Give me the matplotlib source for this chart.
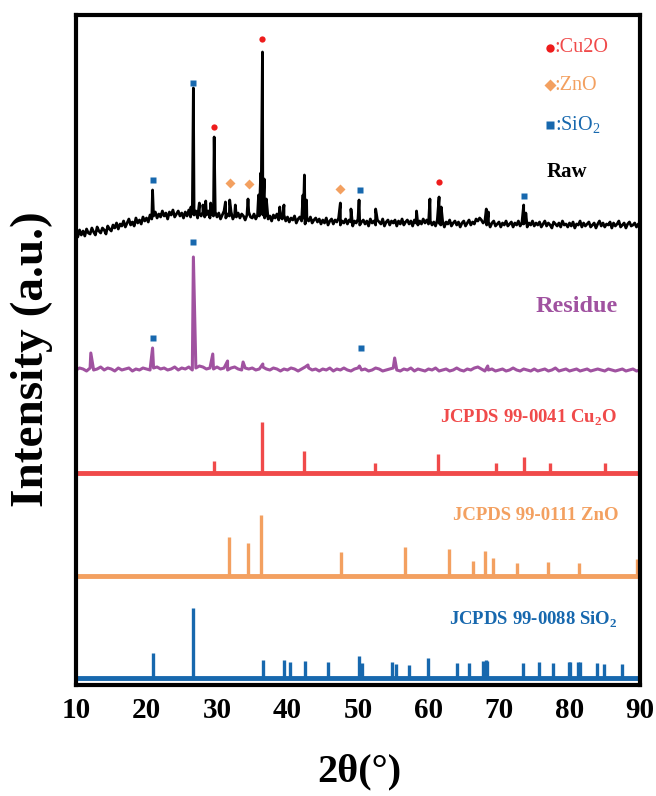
import numpy as np
import matplotlib
matplotlib.use('Agg')
import matplotlib.pyplot as plt

plt.rcParams['font.family'] = ['Liberation Serif', 'DejaVu Serif']
plt.rcParams['mathtext.fontset'] = 'custom'
plt.rcParams['mathtext.rm'] = 'Liberation Serif'
plt.rcParams['mathtext.bf'] = 'Liberation Serif:bold'

#%% Data

# Raw pattern: background read every 0.25 deg from 10 to 90, plus peak points
raw_bg_x = np.arange(10, 90.01, 0.25)
raw_bg_y = [12, 8, 15, 10, 14, 9, 16, 12, 11, 17, 13, 10, 18, 14, 12, 17, 15, 11, 19, 16,
            14, 20, 17, 22, 16, 21, 19, 24, 18, 22, 26, 20, 23, 19, 27, 22, 25, 21, 28, 24,
            27, 23, 30, 26, 29, 33, 27, 31, 28, 34, 29, 32, 26, 33, 30, 35, 28, 31, 34, 29,
            32, 27, 33, 29, 35, 28, 31, 30, 34, 27, 32, 29, 33, 28, 30, 34, 27, 31, 29, 33,
            28, 32, 26, 30, 34, 27, 31, 29, 33, 26, 30, 28, 32, 27, 31, 29, 25, 30, 33, 28,
            27, 31, 26, 30, 29, 33, 30, 27, 32, 26, 29, 24, 30, 27, 31, 25, 28, 26, 30, 24,
            28, 23, 27, 25, 29, 22, 26, 28, 24, 27, 21, 26, 24, 28, 22, 25, 27, 23, 26, 21,
            25, 22, 27, 20, 24, 26, 21, 25, 23, 27, 20, 24, 22, 26, 21, 25, 23, 19, 24, 22,
            26, 20, 23, 25, 21, 24, 19, 26, 22, 24, 20, 25, 23, 21, 26, 19, 23, 25, 20, 24,
            22, 25, 19, 24, 21, 26, 20, 23, 25, 21, 24, 19, 25, 22, 20, 24, 21, 26, 22, 25,
            21, 24, 20, 23, 19, 25, 22, 20, 24, 18, 23, 21, 25, 19, 22, 24, 20, 23, 18, 22,
            24, 19, 22, 25, 20, 23, 21, 26, 24, 27, 25, 22, 24, 20, 23, 18, 22, 24, 19, 21,
            23, 18, 22, 20, 24, 19, 21, 23, 18, 22, 20, 24, 19, 22, 21, 23, 18, 22, 20, 24,
            19, 22, 20, 23, 18, 21, 24, 19, 22, 20, 17, 23, 21, 19, 22, 18, 24, 20, 21, 18,
            22, 19, 23, 17, 21, 20, 24, 18, 22, 19, 21, 23, 18, 20, 22, 17, 21, 24, 19, 22,
            18, 21, 20, 23, 17, 22, 19, 21, 24, 18, 20, 22, 17, 21, 23, 19, 20, 22, 18, 21,
            20]
raw_pk_x = [20.86, 26.3, 26.65, 27.5, 28.0, 28.4, 29.1, 29.6, 31.2, 31.8, 32.6, 34.4,
            35.9, 36.2, 36.45, 36.7, 37.0, 38.9, 39.5, 42.2, 42.4, 42.7, 47.5, 49.0,
            50.15, 52.5, 58.3, 60.2, 61.5, 61.8, 68.2, 68.5, 73.5, 73.8]
raw_pk_y = [55, 38, 157, 42, 40, 44, 42, 108, 43, 45, 40, 46,
            50, 72, 193, 66, 46, 38, 40, 50, 70, 45, 42, 36,
            45, 36, 34, 46, 48, 38, 36, 33, 40, 32]

# Residue pattern: background every 0.5 deg, plus peak points
res_bg_x = np.arange(10, 90.01, 0.5)
res_bg_y = [0, 2, 1, -1, 2, 0, 1, 3, 0, 2,
            1, -1, 2, 0, 1, 2, -1, 1, 0, 2,
            1, 0, 2, 3, 1, 2, 0, 1, 3, 0,
            2, 1, 3, 0, 2, 4, 3, 1, 2, 1,
            3, 1, 2, 0, 2, 3, 1, 0, 2, 1,
            2, 0, 1, 3, 1, 0, 2, 1, -1, 1,
            0, 2, 1, -1, 1, 3, 2, 0, 1, -1,
            1, 0, 2, -1, 1, 0, 2, 0, -1, 1,
            2, 0, 1, -1, 0, 2, 1, -1, 0, 1,
            2, 0, -1, 1, 0, 2, -1, 1, 0, -1,
            1, 0, 2, -1, 0, 1, -1, 0, 2, 0,
            -1, 1, 0, 2, 3, 1, -1, 0, 1, -1,
            0, 1, -1, 0, 2, 0, -1, 1, 0, -1,
            1, -1, 0, 1, -1, 0, 2, -1, 0, 1,
            -1, 0, 1, -1, 0, 1, -1, 0, 1, 0,
            -1, 1, 0, -1, 0, 1, -1, 0, 1, -1,
            0]
res_pk_x = [12.1, 20.86, 26.65, 27.0, 29.4, 31.5, 33.7, 36.5, 42.9, 50.2, 55.2, 68.4]
res_pk_y = [17, 22, 113, 6, 16, 9, 8, 6, 5, 4, 12, 4]

# Phase marks on the measured patterns
raw_cu2o_x = [29.6, 36.45, 61.5]
raw_cu2o_y = [118, 206, 63]
raw_zno_x = [31.9, 34.6, 47.5]
raw_zno_y = [62, 61, 56]
raw_sio2_x = [20.86, 26.65, 50.3, 73.5]
raw_sio2_y = [65, 162, 55, 49]
res_sio2_x = [20.86, 26.65, 50.4]
res_sio2_y = [32, 128, 22]

# Reference cards
cu2o_pos = [29.55, 36.42, 42.3, 52.45, 61.35, 69.6, 73.5, 77.3, 85.0]
cu2o_int = [12, 51, 22, 10, 19, 10, 16, 10, 10]
zno_pos = [31.77, 34.42, 36.25, 47.54, 56.6, 62.86, 66.38, 67.96, 69.1, 72.56, 76.95, 81.4, 89.6]
zno_int = [39, 33, 61, 24, 29, 27, 15, 25, 18, 13, 14, 13, 17]
sio2_pos = [20.86, 26.64, 36.54, 39.47, 40.29, 42.45, 45.79, 50.14, 50.62, 54.87, 55.33,
            57.24, 59.96, 63.99, 65.79, 67.74, 68.14, 68.32, 73.47, 75.64, 77.67, 79.88,
            80.04, 81.17, 81.49, 83.83, 84.95, 87.44]
sio2_int = [25, 70, 18, 18, 16, 17, 16, 22, 15, 16, 14,
            13, 20, 15, 15, 17, 18, 17, 15, 16, 15, 16,
            16, 16, 16, 15, 14, 14]

#%% Offsets and colours
off_raw, off_res, off_cu2o, off_zno, off_sio2 = 440, 315, 212, 109, 7
c_red = '#F04A4A'
c_dot = '#EE1C1C'
c_org = '#F3A060'
c_blu = '#1768AE'
c_pur = '#A052A0'

#%% Plot
fig = plt.figure(figsize=(6.56, 7.96), dpi=100)
ax = fig.add_axes([76/656, 111/796, 564/656, 670/796])

# merge background and peak points
rx = np.concatenate([raw_bg_x, raw_pk_x])
ry = np.concatenate([raw_bg_y, raw_pk_y])
o = np.argsort(rx)
ax.plot(rx[o], ry[o] + off_raw, color='k', lw=2.0)

sx = np.concatenate([res_bg_x, res_pk_x])
sy = np.concatenate([res_bg_y, res_pk_y])
o = np.argsort(sx)
ax.plot(sx[o], sy[o] + off_res, color=c_pur, lw=2.2)

# markers
ax.plot(raw_cu2o_x, np.array(raw_cu2o_y) + off_raw, 'o', color=c_dot, ms=4.5, mec='none')
ax.plot(raw_zno_x, np.array(raw_zno_y) + off_raw, 'D', color=c_org, ms=5, mec='none')
ax.plot(raw_sio2_x, np.array(raw_sio2_y) + off_raw, 's', color=c_blu, ms=5, mec='none')
ax.plot(res_sio2_x, np.array(res_sio2_y) + off_res, 's', color=c_blu, ms=5, mec='none')

# reference sticks
for pos, inten, off, col in [(cu2o_pos, cu2o_int, off_cu2o, c_red),
                             (zno_pos, zno_int, off_zno, c_org),
                             (sio2_pos, sio2_int, off_sio2, c_blu)]:
    ax.vlines(pos, off, off + np.array(inten), color=col, lw=2.4)
    ax.hlines(off, 10, 90, color=col, lw=3.5)

# labels on panels
ax.text(86.8, off_res + 64, 'Residue', color=c_pur, fontsize=17.5, fontweight='bold',
        ha='right', va='center')
ax.text(86.8, off_cu2o + 55, r'JCPDS 99-0041 Cu$_\mathbf{2}$O', color=c_red, fontsize=13.5,
        fontweight='bold', ha='right', va='center')
ax.text(87.0, off_zno + 60, 'JCPDS 99-0111 ZnO', color=c_org, fontsize=13.5,
        fontweight='bold', ha='right', va='center')
ax.text(86.8, off_sio2 + 58, r'JCPDS 99-0088 SiO$_\mathbf{2}$', color=c_blu, fontsize=13.5,
        fontweight='bold', ha='right', va='center')
ax.text(79.6, off_raw + 73, 'Raw', color='k', fontsize=15, fontweight='bold',
        ha='center', va='center')

# legend
ax.plot([77.2], [637], 'o', color=c_dot, ms=6, mec='none')
ax.text(77.9, 637, ':Cu2O', color=c_red, fontsize=14.5, va='center')
ax.plot([77.2], [600], 'D', color=c_org, ms=6.5, mec='none')
ax.text(77.9, 600, ':ZnO', color=c_org, fontsize=14.5, va='center')
ax.plot([77.2], [560], 's', color=c_blu, ms=6, mec='none')
ax.text(77.9, 560, r':SiO$_2$', color=c_blu, fontsize=14.5, va='center')

ax.set_xlim(10, 90)
ax.set_ylim(0, 670)
ax.set_xticks(np.arange(10, 91, 10))
ax.set_yticks([])
ax.tick_params(axis='x', length=0, pad=9, labelsize=21)
for lab in ax.get_xticklabels():
    lab.set_fontweight('bold')
for sp in ax.spines.values():
    sp.set_linewidth(3)

fig.text(359/656, 1 - 772/796, '2θ(°)', fontsize=29, fontweight='bold', ha='center', va='center')
fig.text(32/656, 1 - 359/796, 'Intensity (a.u.)', fontsize=34, fontweight='bold',
         rotation=90, ha='center', va='center')

fig.savefig('out.png', dpi=100)
